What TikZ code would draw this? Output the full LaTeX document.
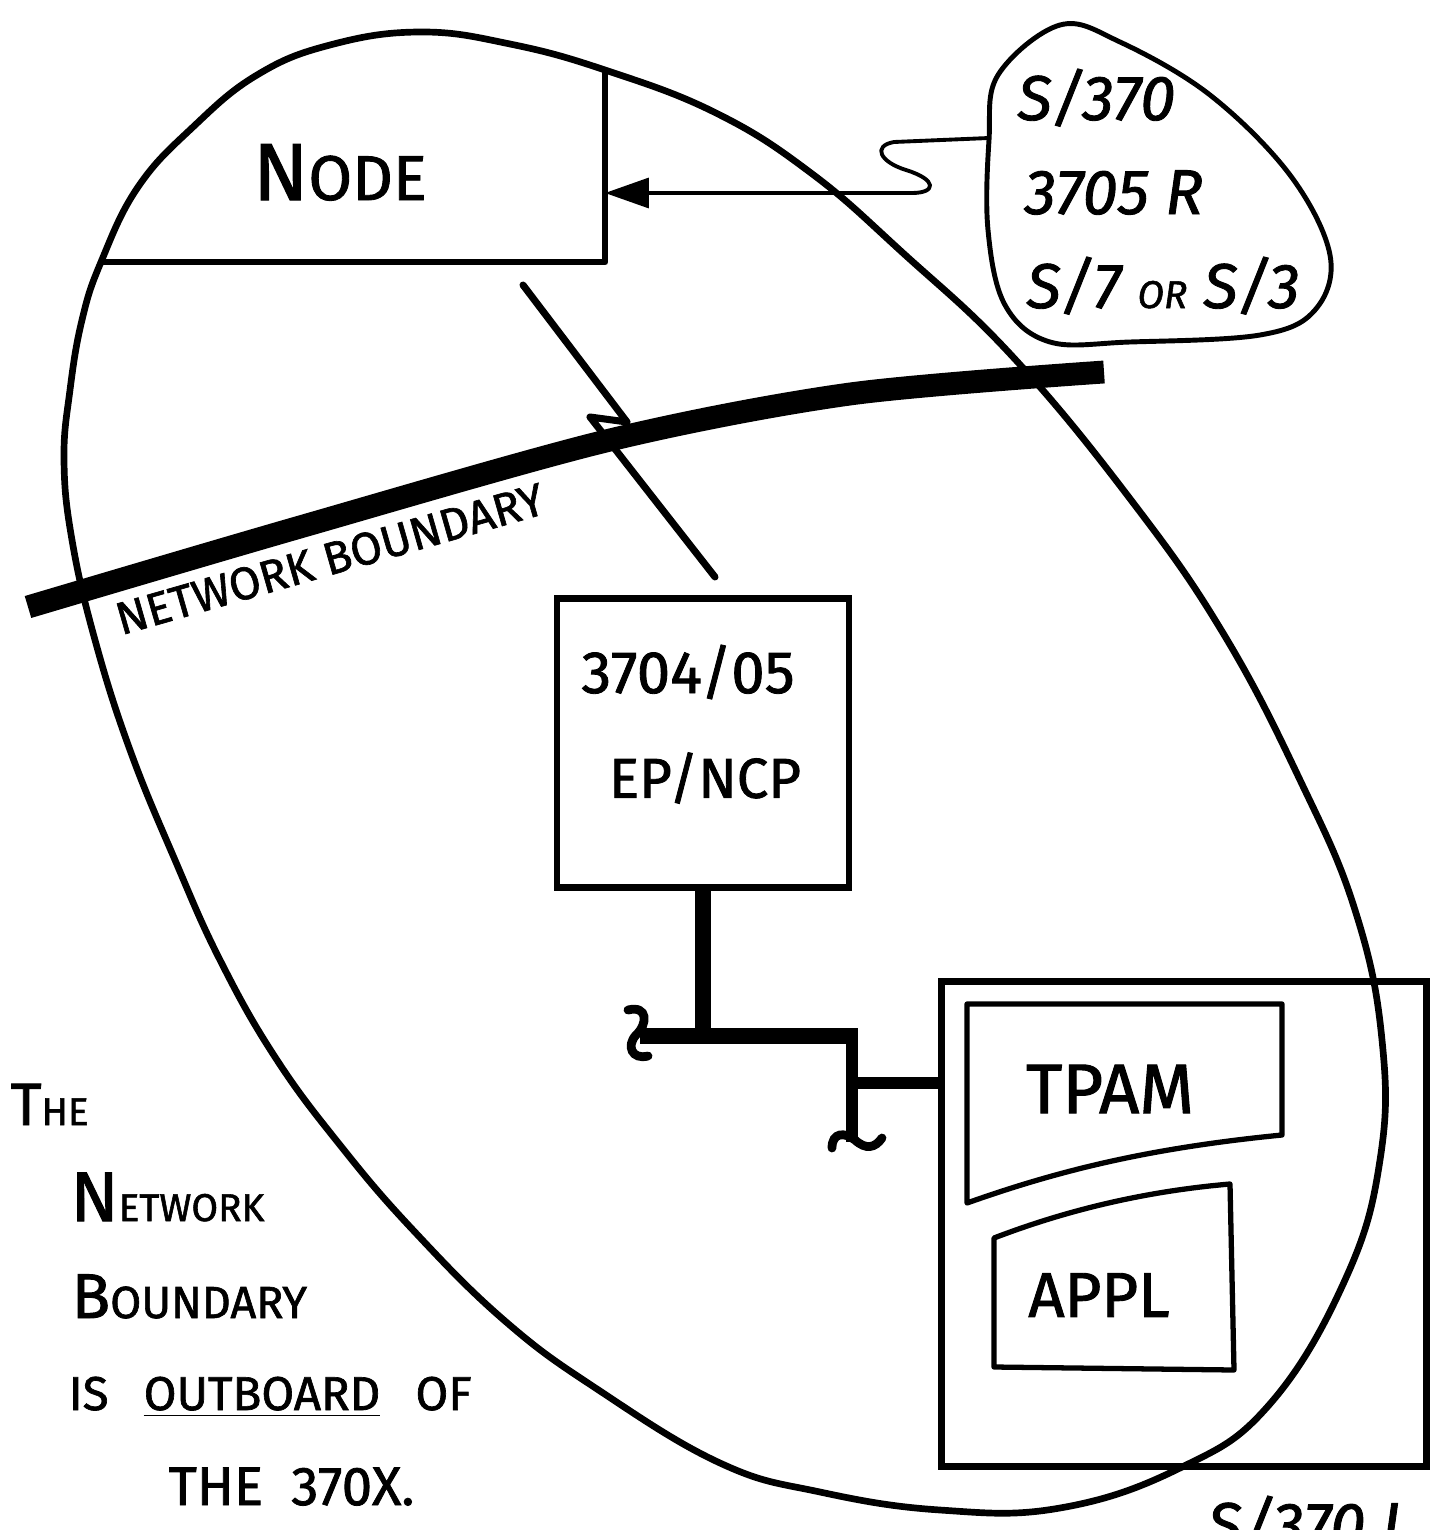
\documentclass[tikz,border=0pt]{standalone}
\usepackage{fontspec}
\setmainfont{Fira Sans}[FakeBold=1.4]
\usetikzlibrary{arrows.meta, positioning}

\newcommand{\firstcap}[2]{{\fontsize{#1}{#1}\selectfont #2}}

\begin{document}
\begin{tikzpicture}[x=0.01cm, y=-0.01cm,
		egg/.style={line width=1.9pt, line join=round},
		box/.style={draw, line width=1.8pt, inner sep=0pt},
		inbox/.style={draw, line width=1.5pt, line join=round},
		link/.style={line width=2pt, line join=round, line cap=round},
		feed/.style={line width=1.1pt, line join=round, -{Triangle[length=12.5pt, width=8.5pt]}},
		bus/.style={line width=4.3pt},
		tail/.style={line width=2.5pt, line cap=round},
		band/.style={line width=6.5pt},
		hand/.style={inner sep=0pt, font=\fontsize{#1}{#1}\selectfont},
		]

		% Page
		\fill[white] (0,0) rectangle (1437,1530);
		\useasboundingbox (0,0) rectangle (1437,1530);

		% Outline
		\draw[egg] plot[smooth cycle, tension=0.7] coordinates {(101,262) (138,187) (193,127)
			(257,75) (330,45) (420,32) (510,44) (605,70) (716,113) (811,173) (903,253) (1013,357)
			(1131,500) (1223,633) (1300,780) (1355,910) (1382,1040) (1380,1160) (1345,1280)
			(1269,1405) (1180,1468) (1060,1508) (940,1510) (820,1492) (720,1463) (597,1389)
			(505,1321) (413,1230) (340,1145) (275,1057) (220,960) (175,860) (130,750) (95,640)
			(72,540) (64,460) (70,390) (82,320)};

		% Node
		\draw[egg] (605,70) -- (605,262) -- (101,262);
		\node[hand=18pt, anchor=base] (nodename) at (340,200) {\firstcap{23pt}{N}ODE};
		\coordinate (nodeE) at (605,193);

		% Host bubble
		\draw[line width=1.4pt] plot[smooth cycle, tension=0.6] coordinates {(998,75) (1060,25)
			(1120,42) (1210,95) (1290,175) (1330,255) (1315,310) (1260,335) (1130,342) (1050,342)
			(1005,305) (988,230) (989,140)};
		\node[hand=18pt, anchor=base west] (hostA) at (1017,120) {\itshape S/370};
		\node[hand=18pt, anchor=base west] (hostB) at (1024,214) {\itshape 3705 R};
		\node[hand=18pt, anchor=base west] (hostC) at (1026,308) {\itshape S/7 \firstcap{11pt}{OR} S/3};
		\coordinate (hostW) at (989,138);

		% Boundary
		\draw[band] plot[smooth, tension=0.5] coordinates {(28,607) (300,527) (610,440)
			(850,394) (1104,372)};
		\node[hand=13pt, rotate=16] (bndname) at (330,559) {NETWORK BOUNDARY};

		% 370x
		\node[box, minimum width=2.92cm, minimum height=2.89cm] (fep) at (703,743) {};
		\node[hand=17pt] (fepA) at (688,672) {3704/05};
		\node[hand=16pt] (fepB) at (705,778) {EP/NCP};

		% S/370
		\node[box, line width=2pt, minimum width=4.84cm, minimum height=4.84cm] (host) at (1184,1224) {};
		\draw[inbox] (967,1004) -- (1282,1004) -- (1282,1135)
			.. controls (1150,1148) and (1060,1170) .. (967,1203) -- cycle;
		\node[hand=20pt] (tpam) at (1110,1089) {TPAM};
		\draw[inbox] (994,1238) .. controls (1080,1205) and (1160,1190) .. (1230,1184)
			-- (1234,1370) -- (994,1367) -- cycle;
		\node[hand=18pt] (appl) at (1099,1295) {APPL};

		% Links
		\coordinate (lnkA) at (523,285);
		\coordinate (lnkB) at (715,577);
		\draw[link] (lnkA) -- ++(104,137) -- ++(-37,-5) -- (lnkB);
		\draw[feed] (hostW) -- (894,142) .. controls (872,146) and (880,162) .. (906,170)
			.. controls (938,180) and (936,193) .. (912,193) -- (nodeE);

		% Bus
		\coordinate (busW) at (640,1036);
		\coordinate (busE) at (858,1036);
		\coordinate (drop) at (852,1083);
		\draw[bus, line width=4.6pt] (fep.south) -- (fep.south |- busW);
		\draw[bus] (busW) -- (busE);
		\draw[bus, line width=3.3pt] (852,1030) -- (852,1142);
		\draw[bus, line width=3.5pt] (drop) -- (drop -| host.west);
		\draw[tail] (628,1010) .. controls (648,1005) and (648,1024) .. (636,1035)
			.. controls (626,1046) and (632,1060) .. (648,1056);
		\draw[tail] (832,1148) .. controls (832,1132) and (845,1132) .. (855,1140)
			.. controls (866,1150) and (875,1148) .. (882,1138);

		% Note
		\node[hand=11pt, anchor=base west] (noteA) at (10,1125) {\firstcap{17pt}{T}HE};
		\node[hand=11pt, anchor=base west] (noteB) at (70,1221) {\firstcap{20pt}{N}ETWORK};
		\node[hand=12.8pt, anchor=base west] (noteC) at (71,1318) {\firstcap{18pt}{B}OUNDARY};
		\node[hand=13.5pt, anchor=base west] (noteD) at (68,1410) {IS\hspace{10pt}\underline{OUTBOARD}\hspace{10pt}OF};
		\node[hand=15.5pt, anchor=base west] (noteE) at (168,1505) {THE\hspace{8pt}370X.};

		% Cut off
		\node[hand=18pt, anchor=base west] (cut) at (1207,1547) {\itshape S/370 I};
	\end{tikzpicture}
\end{document}
